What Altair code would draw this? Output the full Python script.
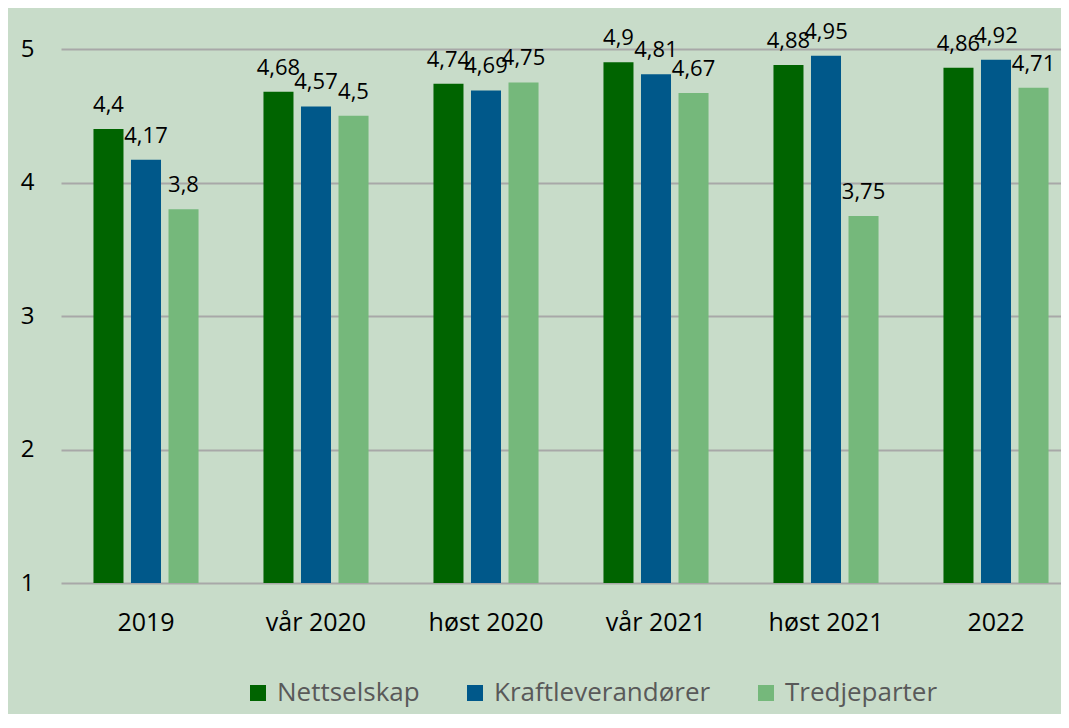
import altair as alt
import pandas as pd

categories = ["2019", "vår 2020", "høst 2020", "vår 2021", "høst  2021", "2022"]
series = ["Nettselskap", "Kraftleverandører", "Tredjeparter"]
nettselskap = [4.4, 4.68, 4.74, 4.9, 4.88, 4.86]
kraftleverandorer = [4.17, 4.57, 4.69, 4.81, 4.95, 4.92]
tredjeparter = [3.8, 4.5, 4.75, 4.67, 3.75, 4.71]
colors = ["#006400", "#00588a", "#75b87b"]
y_ticks = [1, 2, 3, 4, 5]

rows = []
for s, vals in zip(series, [nettselskap, kraftleverandorer, tredjeparter]):
    for c, v in zip(categories, vals):
        rows.append({
            "kategori": c,
            "serie": s,
            "verdi": v,
            "base": 1,
            "etikett": f"{v:g}".replace(".", ","),
        })
df = pd.DataFrame(rows)

x = alt.X(
    "kategori:N",
    sort=categories,
    scale=alt.Scale(range=[0, 1020], paddingInner=0.382, paddingOuter=0.191),
    axis=alt.Axis(
        title=None, labelAngle=0, labelFontSize=25, labelColor="#000000",
        labelPadding=27, domain=False, ticks=False, grid=False,
    ),
)
xo = alt.XOffset("serie:N", sort=series,
                 scale=alt.Scale(paddingInner=0.2, paddingOuter=0))
y = alt.Y(
    "verdi:Q",
    scale=alt.Scale(domain=[1, 5], zero=False, nice=False),
    axis=alt.Axis(
        values=y_ticks, title=None, labelFontSize=24, labelColor="#000000",
        labelPadding=27, domain=False, ticks=False, grid=True,
        gridColor="#a8a8a8", gridWidth=2, format="d",
    ),
)

color = alt.Color(
    "serie:N",
    sort=series,
    scale=alt.Scale(domain=series, range=colors),
    legend=alt.Legend(
        orient="none", legendX=184, legendY=631, direction="horizontal",
        title=None, symbolType="square", symbolSize=256, symbolStrokeWidth=0,
        labelFontSize=26, labelColor="#595959", columnPadding=42,
        labelOffset=6, labelLimit=400,
    ),
)

bars = alt.Chart(df).mark_bar().encode(
    x=x, xOffset=xo, y=y, y2=alt.Y2("base:Q"), color=color,
)

labels = alt.Chart(df).mark_text(
    baseline="alphabetic", dy=-17, fontSize=22, color="#000000"
).encode(
    x=alt.X("kategori:N", sort=categories),
    xOffset=alt.XOffset("serie:N", sort=series),
    y=alt.Y("verdi:Q"),
    text="etikett:N",
)

chart = alt.layer(bars, labels).properties(
    width=1000,
    height=534,
    autosize=alt.AutoSizeParams(type="none"),
    padding={"left": 53, "top": 41, "right": 0, "bottom": 131},
).configure(
    background="#c8dcc9",
    font="Open Sans",
).configure_view(
    stroke=None,
)

chart.save("out.html", embed_options={"renderer": "svg", "actions": False})
